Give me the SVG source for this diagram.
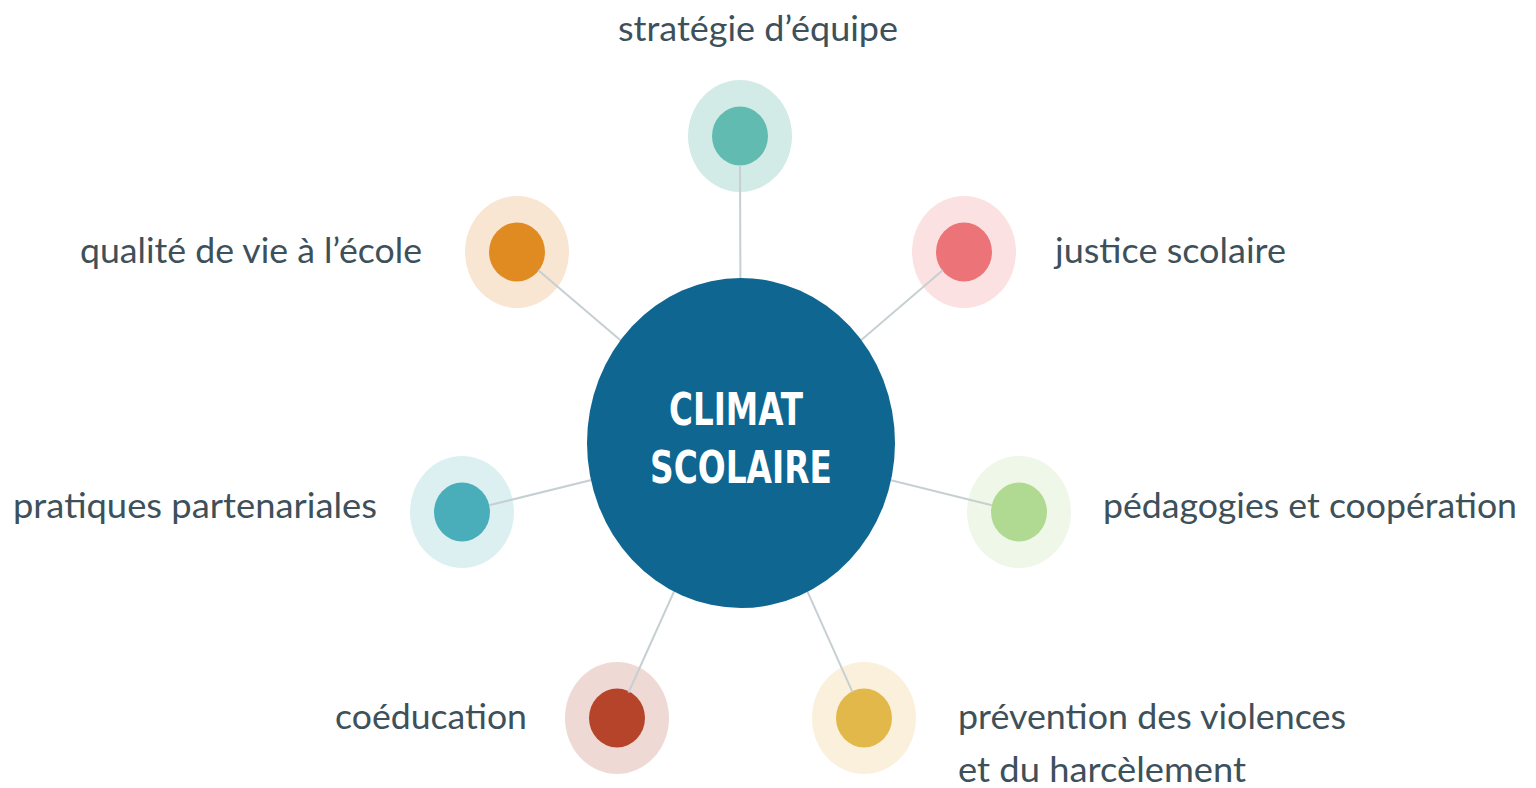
<svg xmlns="http://www.w3.org/2000/svg" width="1536" height="788" viewBox="0 0 1536 788">
<style>
.lbl{font-family:Lato,"Open Sans","Liberation Sans",sans-serif;font-size:35px;fill:#3e505a}
.ctr{font-family:"DejaVu Sans","Liberation Sans",sans-serif;font-weight:bold;font-size:44px;fill:#ffffff;text-anchor:middle}
.conn{stroke:#c6d0d2;stroke-width:2;fill:none}
</style>
<rect width="1536" height="788" fill="#ffffff"/>
<g id="node-strategie">
<ellipse cx="740" cy="136" rx="52" ry="56" fill="#d2ebe7"/>
<ellipse cx="740" cy="136" rx="28" ry="29.5" fill="#62bbb0"/>
<text class="lbl" x="618" y="41" textLength="280" lengthAdjust="spacingAndGlyphs">stratégie d’équipe</text>
</g>
<g id="node-qualite">
<ellipse cx="517" cy="252" rx="52" ry="56" fill="#f8e6d2"/>
<ellipse cx="517" cy="252" rx="28" ry="29.5" fill="#e08b22"/>
<text class="lbl" x="80" y="263" textLength="342" lengthAdjust="spacingAndGlyphs">qualité de vie à l’école</text>
</g>
<g id="node-justice">
<ellipse cx="964" cy="252" rx="52" ry="56" fill="#fbe1e1"/>
<ellipse cx="964" cy="252" rx="28" ry="29.5" fill="#ec7378"/>
<text class="lbl" x="1055" y="263" textLength="231" lengthAdjust="spacingAndGlyphs">justice scolaire</text>
</g>
<g id="node-pratiques">
<ellipse cx="462" cy="512" rx="52" ry="56" fill="#dcf0f2"/>
<ellipse cx="462" cy="512" rx="28" ry="29.5" fill="#49aeba"/>
<text class="lbl" x="13" y="518" textLength="364" lengthAdjust="spacingAndGlyphs">pratiques partenariales</text>
</g>
<g id="node-pedagogies">
<ellipse cx="1019" cy="512" rx="52" ry="56" fill="#eff7e8"/>
<ellipse cx="1019" cy="512" rx="28" ry="29.5" fill="#b0da91"/>
<text class="lbl" x="1103" y="518" textLength="414" lengthAdjust="spacingAndGlyphs">pédagogies et coopération</text>
</g>
<g id="node-coeducation">
<ellipse cx="617" cy="718" rx="52" ry="56" fill="#efd9d5"/>
<ellipse cx="617" cy="718" rx="28" ry="29.5" fill="#b5442a"/>
<text class="lbl" x="335" y="729" textLength="192" lengthAdjust="spacingAndGlyphs">coéducation</text>
</g>
<g id="node-prevention">
<ellipse cx="864" cy="718" rx="52" ry="56" fill="#faf0dc"/>
<ellipse cx="864" cy="718" rx="28" ry="29.5" fill="#e3b84a"/>
<text class="lbl" x="958" y="729" textLength="388" lengthAdjust="spacingAndGlyphs">prévention des violences</text>
<text class="lbl" x="958" y="782" textLength="288" lengthAdjust="spacingAndGlyphs">et du harcèlement</text>
</g>
<g id="connectors">
<line class="conn" x1="740" y1="165" x2="741" y2="443"/>
<line class="conn" x1="538.3" y1="270.2" x2="741" y2="443"/>
<line class="conn" x1="942.7" y1="270.2" x2="741" y2="443"/>
<line class="conn" x1="489.2" y1="505.3" x2="741" y2="443"/>
<line class="conn" x1="991.8" y1="505.3" x2="741" y2="443"/>
<line class="conn" x1="628.5" y1="692.5" x2="741" y2="443"/>
<line class="conn" x1="852.6" y1="692.4" x2="741" y2="443"/>
</g>
<g id="node-climat">
<ellipse cx="741" cy="443" rx="154" ry="165" fill="#0f6690"/>
<text class="ctr" x="736" y="425" textLength="134" lengthAdjust="spacingAndGlyphs">CLIMAT</text>
<text class="ctr" x="741" y="483" textLength="182" lengthAdjust="spacingAndGlyphs">SCOLAIRE</text>
</g>
</svg>
